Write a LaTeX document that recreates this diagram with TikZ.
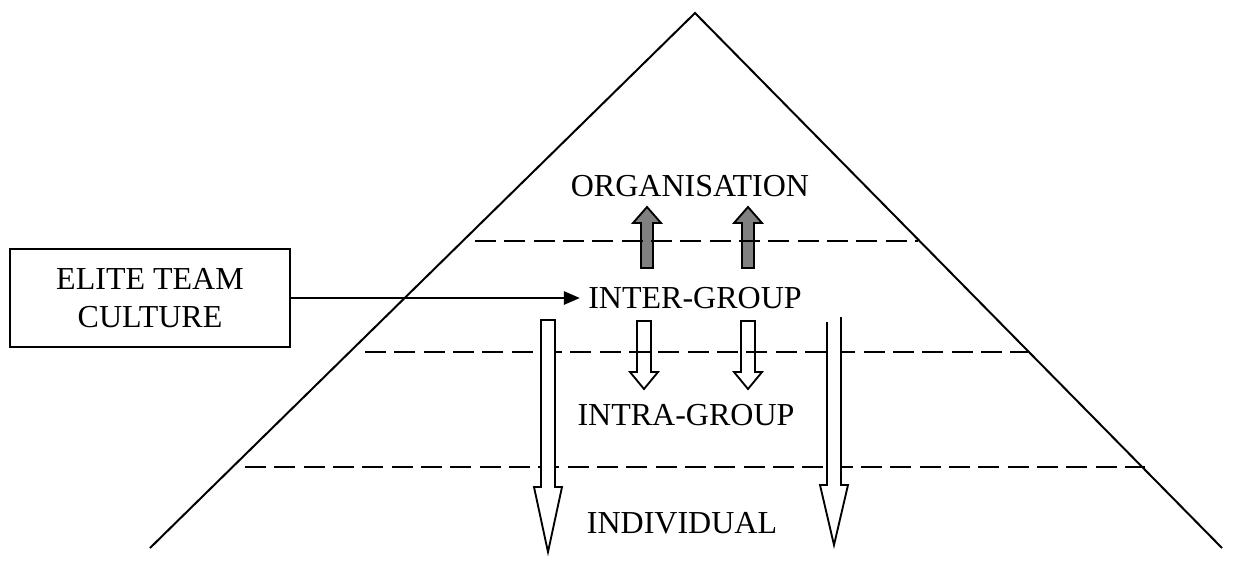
\documentclass[tikz,border=0pt]{standalone}
\usepackage{fontspec}
\setmainfont{Liberation Serif}
\usepackage{tikz}
\usetikzlibrary{arrows.meta}

\begin{document}
\begin{tikzpicture}[x=0.375pt,y=-0.375pt,
    font=\fontsize{12}{14.2}\selectfont,
    level/.style={shape=rectangle,inner sep=3pt},
    layer/.style={line width=1.1pt,dash pattern=on 7.9pt off 3.1pt},
    uparrow/.style={draw=black,line width=0.7pt,fill=black!50},
    downarrow/.style={draw=black,line width=0.7pt,fill=white}]
      \useasboundingbox (0,0) rectangle (1233,560);

      % pyramid
      \draw[line width=0.75pt] (150,548) -- (695,13) -- (1222,548);

      \node[level] (organisation) at (690,186) {ORGANISATION};
      \node[level] (inter) at (695,298) {INTER-GROUP};
      \node[level] (intra) at (686,415) {INTRA-GROUP};
      \node[level] (individual) at (682,523) {INDIVIDUAL};

      \node[shape=rectangle,
        draw=black,
        line width=0.75pt,
        align=center,
        minimum width = 105pt,
        minimum height = 37pt] (culture) at (150,298) {ELITE TEAM\\CULTURE};

      \draw[uparrow]
        (641,268) -- (641,223) -- (633,223) -- (647,207) --
        (661,223) -- (653,223) -- (653,268) -- cycle;
      \draw[uparrow]
        (742,268) -- (742,223) -- (734,223) -- (748,207) --
        (762,223) -- (754,223) -- (754,268) -- cycle;

      \draw[downarrow]
        (637,321) -- (637,372) -- (630,372) -- (644,389) --
        (658,372) -- (651,372) -- (651,321) -- cycle;
      \draw[downarrow]
        (741,321) -- (741,372) -- (734,372) -- (748,389) --
        (762,372) -- (755,372) -- (755,321) -- cycle;

      \draw[layer] (475,241) -- (918,241);
      \draw[layer] (365,352) -- (1028,352);
      \draw[layer] (245,467) -- (1145,467);

      \draw[downarrow]
        (541,320) -- (541,487) -- (534,487) -- (548,552) --
        (562,487) -- (555,487) -- (555,320) -- cycle;
      \fill[white]
        (827,322) -- (827,485) -- (820,485) -- (834,545) --
        (848,485) -- (841,485) -- (841,317) -- (827,317) -- cycle;
      \draw[line width=0.7pt]
        (827,322) -- (827,485) -- (820,485) -- (834,545) --
        (848,485) -- (841,485) -- (841,317);

      \draw[-{Triangle[length=6pt,width=5pt]},line width=0.75pt]
        (culture.east) -- (inter.west);
\end{tikzpicture}
\end{document}
